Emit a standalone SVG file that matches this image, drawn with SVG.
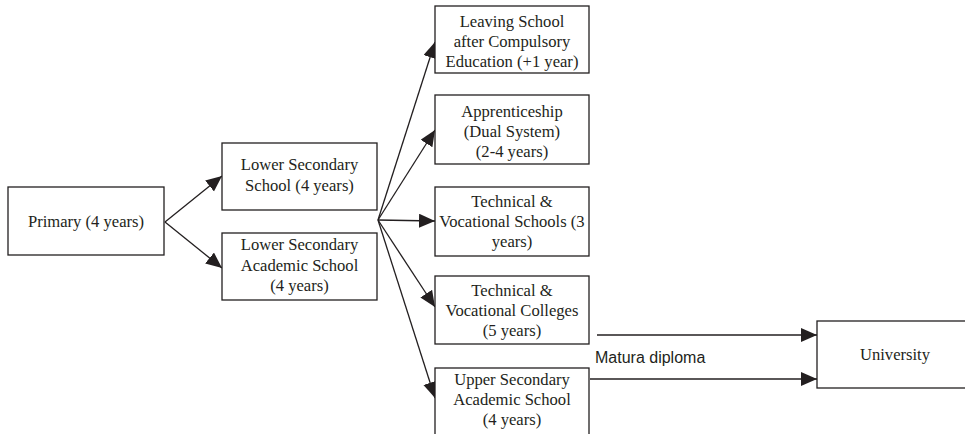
<svg xmlns="http://www.w3.org/2000/svg" width="965" height="434" viewBox="0 0 965 434">
<defs>
<style>
.box{fill:#fff;stroke:#231f20;stroke-width:1.3}
.t{font-family:"Liberation Serif","Times New Roman",serif;font-size:16.6px;fill:#231f20;text-anchor:middle}
.s{font-family:"Liberation Sans",Arial,sans-serif;font-size:16px;fill:#231f20}
.c{fill:none;stroke:#231f20;stroke-width:1.3}
</style>
<marker id="ah" markerUnits="userSpaceOnUse" markerWidth="17" markerHeight="15" refX="16" refY="7" orient="auto">
<path d="M0,0 L16,7 L0,14 z" fill="#231f20"/>
</marker>
</defs>
<rect width="965" height="434" fill="#fff"/>
<g id="connectors">
<line class="c" x1="165" y1="222" x2="222" y2="176" marker-end="url(#ah)"/>
<line class="c" x1="165" y1="222" x2="222" y2="268" marker-end="url(#ah)"/>
<line class="c" x1="378" y1="220" x2="435" y2="42" marker-end="url(#ah)"/>
<line class="c" x1="378" y1="220" x2="435" y2="130" marker-end="url(#ah)"/>
<line class="c" x1="378" y1="220" x2="435" y2="221" marker-end="url(#ah)"/>
<line class="c" x1="378" y1="220" x2="435" y2="307" marker-end="url(#ah)"/>
<line class="c" x1="378" y1="220" x2="435" y2="398" marker-end="url(#ah)"/>
<line class="c" x1="597" y1="335" x2="817" y2="335" marker-end="url(#ah)"/>
<line class="c" x1="590" y1="379" x2="817" y2="379" marker-end="url(#ah)"/>
<text class="s" x="595" y="363">Matura diploma</text>
</g>
<g id="primary">
<rect class="box" x="8" y="187" width="156" height="68"/>
<text class="t" x="86" y="227">Primary (4 years)</text>
</g>
<g id="lower-secondary">
<rect class="box" x="222" y="143" width="155" height="67"/>
<text class="t" x="299.5" y="170">Lower Secondary</text>
<text class="t" x="299.5" y="191">School (4 years)</text>
</g>
<g id="lower-academic">
<rect class="box" x="222" y="233" width="155" height="67"/>
<text class="t" x="299.5" y="250">Lower Secondary</text>
<text class="t" x="299.5" y="271">Academic School</text>
<text class="t" x="299.5" y="291">(4 years)</text>
</g>
<g id="leaving">
<rect class="box" x="435" y="6" width="154" height="67"/>
<text class="t" x="512" y="27">Leaving School</text>
<text class="t" x="512" y="47">after Compulsory</text>
<text class="t" x="512" y="67">Education (+1 year)</text>
</g>
<g id="apprenticeship">
<rect class="box" x="435" y="95" width="154" height="69"/>
<text class="t" x="512" y="117">Apprenticeship</text>
<text class="t" x="512" y="137">(Dual System)</text>
<text class="t" x="512" y="157">(2-4 years)</text>
</g>
<g id="tech-schools">
<rect class="box" x="435" y="187" width="154" height="69"/>
<text class="t" x="512" y="207">Technical &amp;</text>
<text class="t" x="512" y="227">Vocational Schools (3</text>
<text class="t" x="512" y="247">years)</text>
</g>
<g id="tech-colleges">
<rect class="box" x="435" y="276" width="154" height="68"/>
<text class="t" x="512" y="296">Technical &amp;</text>
<text class="t" x="512" y="316">Vocational Colleges</text>
<text class="t" x="512" y="336">(5 years)</text>
</g>
<g id="upper-academic">
<rect class="box" x="435" y="368" width="154" height="68"/>
<text class="t" x="512" y="385">Upper Secondary</text>
<text class="t" x="512" y="405">Academic School</text>
<text class="t" x="512" y="425">(4 years)</text>
</g>
<g id="university">
<rect class="box" x="817" y="321" width="156" height="67"/>
<text class="t" x="895" y="360">University</text>
</g>
</svg>
